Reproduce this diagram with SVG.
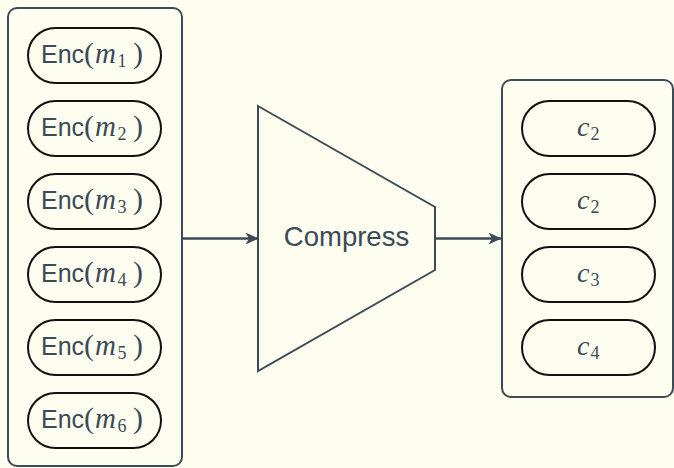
<svg xmlns="http://www.w3.org/2000/svg" width="674" height="468" viewBox="0 0 674 468">
  <defs>
    <style>
      .frame { fill: none; stroke: #3d4b57; stroke-width: 2; }
      .pill { fill: none; stroke: #111; stroke-width: 2; }
      .sans { font-family: "Liberation Sans", Arial, sans-serif; fill: #3b4a56; font-size: 25px; }
      .math { font-family: "Liberation Serif", "Times New Roman", serif; fill: #3b4a56; }
      .par { font-size: 30px; }
      .var { font-style: italic; font-size: 29px; }
      .sub { font-size: 18px; }
      .wire { stroke: #3d4b57; stroke-width: 2.6; fill: none; marker-end: url(#head); }
    </style>
    <marker id="head" viewBox="0 0 13 13" refX="12.5" refY="6.5" markerWidth="13" markerHeight="13" markerUnits="userSpaceOnUse" orient="auto">
      <path d="M0,0.5 L13,6.5 L0,12.5 L3.5,6.5 Z" fill="#3d4b57"/>
    </marker>
  </defs>

  <rect width="674" height="468" fill="#fdfef0"/>

  <!-- input column -->
  <g id="inputs">
    <rect class="frame" x="8" y="8" width="174" height="458" rx="9"/>
    <g id="enc1">
      <rect class="pill" x="28" y="28" width="133" height="55" rx="27.5"/>
      <text y="63"><tspan class="sans" x="41">Enc</tspan><tspan class="math par" x="84">(</tspan><tspan class="math var" x="95">m</tspan><tspan class="math sub" x="117.5" dy="4">1</tspan><tspan class="math par" x="133" dy="-4">)</tspan></text>
    </g>
    <g id="enc2">
      <rect class="pill" x="28" y="101" width="133" height="55" rx="27.5"/>
      <text y="136"><tspan class="sans" x="41">Enc</tspan><tspan class="math par" x="84">(</tspan><tspan class="math var" x="95">m</tspan><tspan class="math sub" x="117.5" dy="4">2</tspan><tspan class="math par" x="133" dy="-4">)</tspan></text>
    </g>
    <g id="enc3">
      <rect class="pill" x="28" y="174" width="133" height="55" rx="27.5"/>
      <text y="209"><tspan class="sans" x="41">Enc</tspan><tspan class="math par" x="84">(</tspan><tspan class="math var" x="95">m</tspan><tspan class="math sub" x="117.5" dy="4">3</tspan><tspan class="math par" x="133" dy="-4">)</tspan></text>
    </g>
    <g id="enc4">
      <rect class="pill" x="28" y="247" width="133" height="55" rx="27.5"/>
      <text y="282"><tspan class="sans" x="41">Enc</tspan><tspan class="math par" x="84">(</tspan><tspan class="math var" x="95">m</tspan><tspan class="math sub" x="117.5" dy="4">4</tspan><tspan class="math par" x="133" dy="-4">)</tspan></text>
    </g>
    <g id="enc5">
      <rect class="pill" x="28" y="320" width="133" height="55" rx="27.5"/>
      <text y="355"><tspan class="sans" x="41">Enc</tspan><tspan class="math par" x="84">(</tspan><tspan class="math var" x="95">m</tspan><tspan class="math sub" x="117.5" dy="4">5</tspan><tspan class="math par" x="133" dy="-4">)</tspan></text>
    </g>
    <g id="enc6">
      <rect class="pill" x="28" y="393" width="133" height="55" rx="27.5"/>
      <text y="428"><tspan class="sans" x="41">Enc</tspan><tspan class="math par" x="84">(</tspan><tspan class="math var" x="95">m</tspan><tspan class="math sub" x="117.5" dy="4">6</tspan><tspan class="math par" x="133" dy="-4">)</tspan></text>
    </g>
  </g>

  <!-- compressor -->
  <g id="compress">
    <path class="frame" d="M258,106 L435,207 L435,270 L258,371 Z"/>
    <text class="sans" x="346.5" y="246" style="font-size:27.5px" text-anchor="middle">Compress</text>
  </g>

  <!-- output column -->
  <g id="outputs">
    <rect class="frame" x="502" y="80" width="171" height="317" rx="9"/>
    <g id="out1">
      <rect class="pill" x="522" y="101" width="133" height="55" rx="27.5"/>
      <text y="136"><tspan class="math var" x="577" style="font-size:28px">c</tspan><tspan class="math sub" x="590.5" dy="4">2</tspan></text>
    </g>
    <g id="out2">
      <rect class="pill" x="522" y="174" width="133" height="55" rx="27.5"/>
      <text y="209"><tspan class="math var" x="577" style="font-size:28px">c</tspan><tspan class="math sub" x="590.5" dy="4">2</tspan></text>
    </g>
    <g id="out3">
      <rect class="pill" x="522" y="247" width="133" height="55" rx="27.5"/>
      <text y="282"><tspan class="math var" x="577" style="font-size:28px">c</tspan><tspan class="math sub" x="590.5" dy="4">3</tspan></text>
    </g>
    <g id="out4">
      <rect class="pill" x="522" y="320" width="133" height="55" rx="27.5"/>
      <text y="355"><tspan class="math var" x="577" style="font-size:28px">c</tspan><tspan class="math sub" x="590.5" dy="4">4</tspan></text>
    </g>
  </g>

  <!-- connectors -->
  <g id="connectors">
    <line class="wire" x1="182" y1="238.5" x2="258" y2="238.5"/>
    <line class="wire" x1="435" y1="238.5" x2="501" y2="238.5"/>
  </g>
</svg>
